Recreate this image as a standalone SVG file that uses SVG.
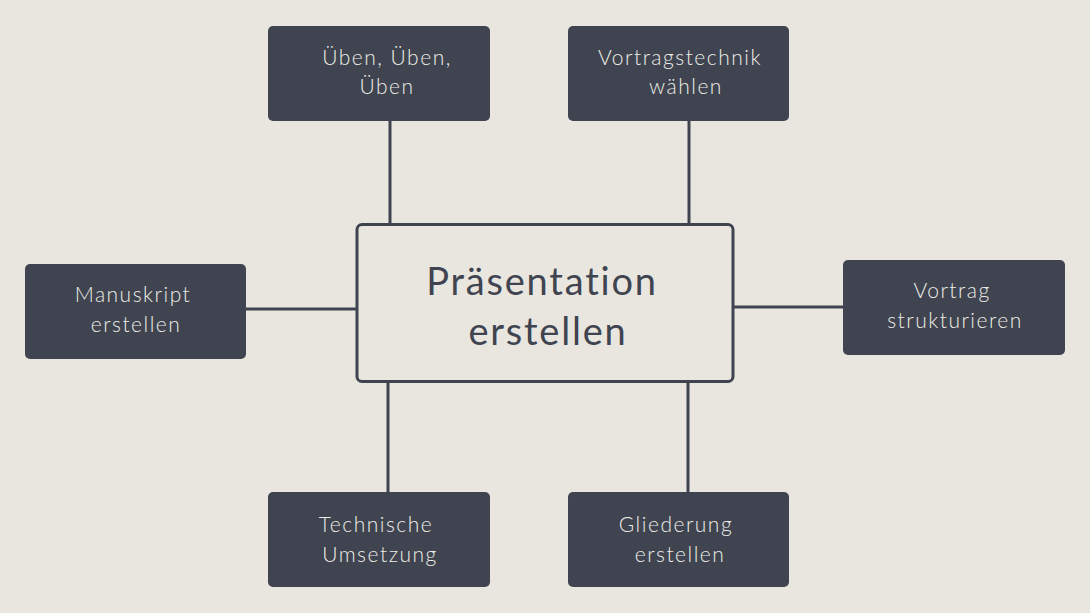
<svg xmlns="http://www.w3.org/2000/svg" width="1090" height="613" viewBox="0 0 1090 613">
<style>
.node rect{fill:#3F4450;}
.node text{font-family:Lato,"Open Sans",sans-serif;font-size:21px;font-weight:300;fill:#EDEDE6;text-anchor:middle;letter-spacing:1.5px;}
.conn line{stroke:#3F4450;stroke-width:3;}
.center rect{fill:#E8E6DF;stroke:#3F4450;stroke-width:3;}
.center text{font-family:Lato,sans-serif;font-size:38px;font-weight:400;fill:#3F4450;text-anchor:middle;letter-spacing:1.8px;}
</style>
<rect width="1090" height="613" fill="#E8E6DF"/>
<g id="connectors" class="conn">
<line x1="390" y1="121" x2="390" y2="224"/>
<line x1="689" y1="121" x2="689" y2="224"/>
<line x1="246" y1="309" x2="356" y2="309"/>
<line x1="733" y1="307" x2="843" y2="307"/>
<line x1="388" y1="382" x2="388" y2="492"/>
<line x1="688" y1="382" x2="688" y2="492"/>
</g>
<g id="center" class="center">
<rect x="357" y="224.5" width="376" height="157" rx="5"/>
<text x="542" y="295">Präsentation</text>
<text x="548" y="345">erstellen</text>
</g>
<g id="n-ueben" class="node">
<rect x="268" y="26" width="222" height="95" rx="5"/>
<text x="387" y="65">Üben, Üben,</text>
<text x="387" y="94">Üben</text>
</g>
<g id="n-vortragstechnik" class="node">
<rect x="568" y="26" width="221" height="95" rx="5"/>
<text x="680" y="65">Vortragstechnik</text>
<text x="686" y="94">wählen</text>
</g>
<g id="n-manuskript" class="node">
<rect x="25" y="264" width="221" height="95" rx="5"/>
<text x="133" y="302">Manuskript</text>
<text x="136" y="332">erstellen</text>
</g>
<g id="n-vortrag" class="node">
<rect x="843" y="260" width="222" height="95" rx="5"/>
<text x="952" y="298">Vortrag</text>
<text x="955" y="328">strukturieren</text>
</g>
<g id="n-technische" class="node">
<rect x="268" y="492" width="222" height="95" rx="5"/>
<text x="376" y="532">Technische</text>
<text x="380" y="562">Umsetzung</text>
</g>
<g id="n-gliederung" class="node">
<rect x="568" y="492" width="221" height="95" rx="5"/>
<text x="676" y="532">Gliederung</text>
<text x="680" y="562">erstellen</text>
</g>
</svg>
